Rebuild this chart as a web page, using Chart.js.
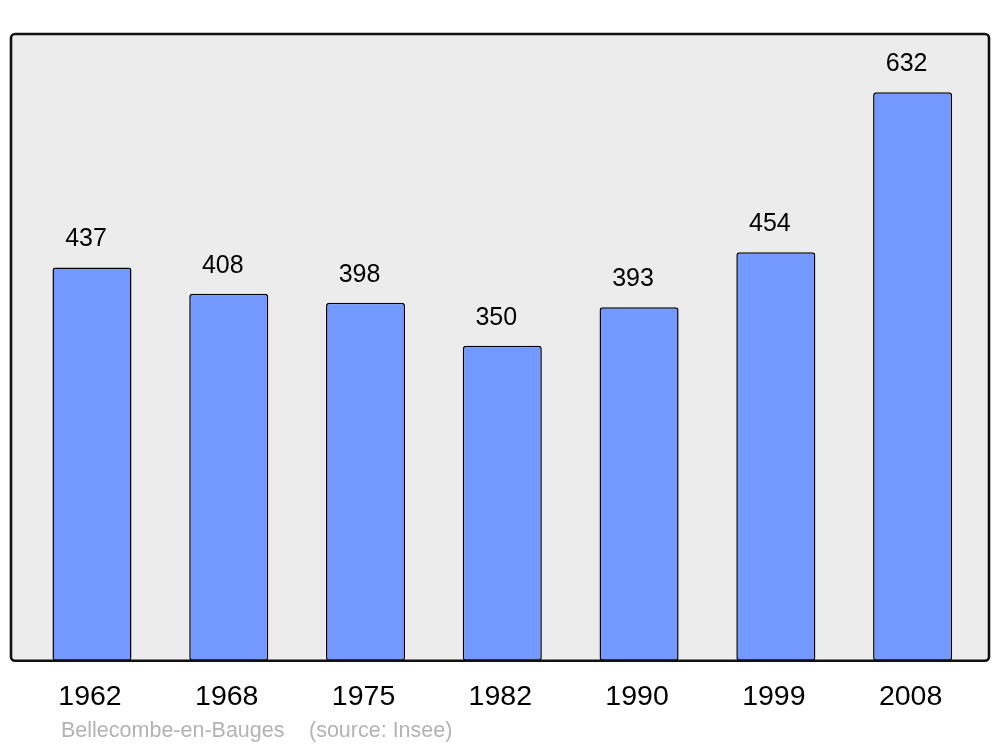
<!DOCTYPE html>
<html>
<head>
<meta charset="utf-8">
<script src="https://cdn.jsdelivr.net/npm/chart.js@4/dist/chart.umd.min.js"></script>
<style>
html,body{margin:0;padding:0;background:#fff;}
#wrap{width:1000px;height:747px;position:relative;}
</style>
</head>
<body>
<div id="wrap"><canvas id="c" width="1000" height="747"></canvas></div>
<script>
const years = ["1962","1968","1975","1982","1990","1999","2008"];
const population = [437,408,398,350,393,454,632];
const footerName = "Bellecombe-en-Bauges";
const footerSource = "(source: Insee)";

const framePlugin = {
  id: 'frame',
  beforeDatasetsDraw(chart) {
    const a = chart.chartArea, ctx = chart.ctx;
    ctx.save();
    ctx.fillStyle = '#ececec';
    ctx.beginPath();
    ctx.roundRect(11, a.top, 978, a.bottom - a.top, 4);
    ctx.fill();
    ctx.restore();
  },
  afterDatasetsDraw(chart) {
    const a = chart.chartArea, ctx = chart.ctx;
    ctx.save();
    ctx.strokeStyle = '#111';
    ctx.lineWidth = 2.6;
    ctx.beginPath();
    ctx.roundRect(11, a.top, 978, a.bottom - a.top, 4);
    ctx.stroke();
    // value labels
    const meta = chart.getDatasetMeta(0);
    ctx.fillStyle = '#000';
    ctx.font = '25px "Liberation Sans", Arial, sans-serif';
    ctx.textAlign = 'center';
    ctx.textBaseline = 'middle';
    meta.data.forEach((bar, i) => {
      ctx.fillText(String(population[i]), bar.x - 6, bar.y - 28);
    });
    // footer
    ctx.fillStyle = '#b3b3b3';
    ctx.font = '21.5px "Liberation Sans", Arial, sans-serif';
    ctx.textAlign = 'left';
    ctx.fillText(footerName, 61, 731);
    ctx.fillText(footerSource, 309, 731);
    ctx.restore();
  }
};

new Chart(document.getElementById('c'), {
  type: 'bar',
  data: {
    labels: years,
    datasets: [{
      data: population,
      backgroundColor: '#7399ff',
      borderColor: '#000',
      borderWidth: 1.5,
      borderRadius: 3,
      borderSkipped: false,
      barPercentage: 0.578,
      categoryPercentage: 1
    }]
  },
  options: {
    responsive: false,
    animation: false,
    layout: { padding: { left: 23.6, right: 19, top: 34, bottom: 14 } },
    plugins: { legend: { display: false }, tooltip: { enabled: false }, title: { display: false } },
    scales: {
      x: {
        grid: { display: false, drawTicks: false },
        border: { display: false },
        ticks: {
          color: '#000',
          font: { family: '"Liberation Sans", Arial, sans-serif', size: 28.5 },
          padding: 19,
          labelOffset: -2,
          maxRotation: 0
        }
      },
      y: {
        display: false,
        min: 0,
        max: 696.6
      }
    }
  },
  plugins: [framePlugin]
});
</script>
</body>
</html>
